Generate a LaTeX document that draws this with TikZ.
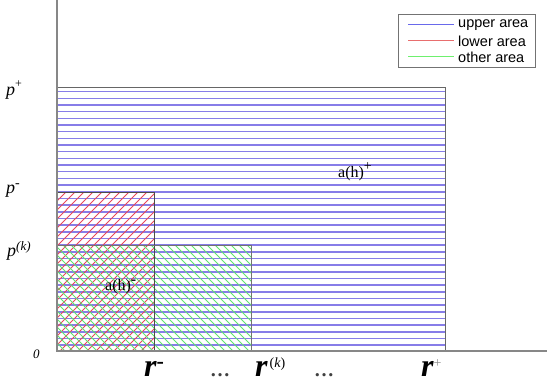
\documentclass[tikz,border=0pt]{standalone}
\usepackage{fontspec}
\setmainfont{Liberation Serif}
\newfontfamily\legendfont{Liberation Sans}
\definecolor{hblue}{RGB}{135,125,232}
\definecolor{hred}{RGB}{232,70,90}
\definecolor{hgreen}{RGB}{95,228,110}
\definecolor{legblue}{RGB}{105,105,235}
\definecolor{legred}{RGB}{232,110,110}
\definecolor{leggreen}{RGB}{110,240,110}
\definecolor{axisgray}{RGB}{135,135,135}
\newcommand{\supr}[2]{\raisebox{#1}{#2}}
\tikzset{
  axisline/.style={draw=axisgray, line width=1.3pt},
  boxline/.style={draw=black!60, line width=0.8pt, inner sep=0pt},
  bluehatch/.style={draw=hblue, line width=1.5pt},
  redhatch/.style={draw=hred, line width=1.0pt},
  greenhatch/.style={draw=hgreen, line width=1.0pt},
  lab/.style={anchor=base west, inner sep=0pt},
  plab/.style={lab, font=\fontsize{18}{18}\selectfont\itshape},
  rlab/.style={lab, font=\fontsize{32}{32}\selectfont\bfseries\itshape},
  alab/.style={lab, font=\fontsize{16}{16}\selectfont},
  legtext/.style={font=\legendfont\fontsize{14.5}{14.5}\selectfont, anchor=west, inner sep=0pt}
}
\begin{document}
\begin{tikzpicture}[x=1pt,y=-1pt]
\useasboundingbox (0,0) rectangle (550,383);
% blue hatching of upper area
\begin{scope}
  \clip (57,87) rectangle (445,351);
  \foreach \k in {0,...,38} {
    \draw[bluehatch] (57,{91.7+6.67*\k}) -- (445,{91.7+6.67*\k});
  }
\end{scope}
% red hatching of lower area
\begin{scope}
  \clip (57,192) rectangle (154,351);
  \foreach \c in {249,258,...,510} {
    \draw[redhatch] ({\c-192},192) -- ({\c-351},351);
  }
\end{scope}
% green hatching of other area
\begin{scope}
  \clip (57,245) rectangle (251,351);
  \foreach \c in {-294,-286,...,10} {
    \draw[greenhatch] ({\c+245},245) -- ({\c+351},351);
  }
\end{scope}
% rectangles
\node[boxline, draw, minimum width=388pt, minimum height=264pt] (upper) at (251,219) {};
\node[boxline, draw=black!70, minimum width=97pt, minimum height=159pt] (lower) at (105.5,271.5) {};
\node[boxline, draw=black!55, minimum width=194pt, minimum height=106pt] (other) at (154,298) {};
% axes
\coordinate (o) at (57,351);
\coordinate (ytop) at (57,0);
\coordinate (xend) at (547,351);
\draw[axisline] (ytop) -- (o) -- (xend);
% axis labels
\node[plab] (pp) at (6,95) {p\supr{8pt}{\fontsize{12}{12}\selectfont\upshape +}};
\node[plab] (pm) at (6,193) {p\supr{6pt}{\fontsize{14}{14}\selectfont\upshape -}};
\node[plab] (pk) at (7,256) {p\supr{6pt}{\fontsize{13}{13}\selectfont(\textit{k})}};
\node[lab, font=\fontsize{13}{13}\selectfont\itshape] (zero) at (33,358) {0};
\node[rlab] (rm) at (144,376) {r\supr{8pt}{\fontsize{22}{22}\selectfont\bfseries\upshape -}};
\node[lab, font=\fontsize{20}{20}\selectfont\bfseries, text=black!75] (d1) at (210,376) {\ldots};
\node[rlab] (rk) at (255,376) {r\hspace{2pt}\supr{9pt}{\fontsize{14}{14}\selectfont\mdseries\upshape (\textit{k})}};
\node[lab, font=\fontsize{20}{20}\selectfont\bfseries, text=black!75] (d2) at (314,376) {\ldots};
\node[rlab] (rp) at (421,376) {r\supr{9pt}{\fontsize{14}{14}\selectfont\mdseries\upshape\color{black!45}+}};
% area labels
\node[alab] (ap) at (338,177) {a(h)\supr{7pt}{\fontsize{14}{14}\selectfont +}};
\node[alab] (am) at (105,290) {a(h)\supr{6pt}{\fontsize{16}{16}\selectfont\bfseries -}};
% legend
\node[draw=black!55, line width=0.8pt, minimum width=137pt, minimum height=53pt, inner sep=0pt, fill=white] (legend) at (466.5,40.5) {};
\coordinate (l1a) at (408,24); \coordinate (l1b) at (454,24);
\coordinate (l2a) at (408,40); \coordinate (l2b) at (454,40);
\coordinate (l3a) at (408,56); \coordinate (l3b) at (454,56);
\draw[draw=legblue, line width=1pt] (l1a) -- (l1b);
\draw[draw=legred, line width=1pt] (l2a) -- (l2b);
\draw[draw=leggreen, line width=1pt] (l3a) -- (l3b);
\node[legtext] (t1) at (458,25) {upper area};
\node[legtext] (t2) at (458,41) {lower area};
\node[legtext] (t3) at (458,57) {other area};
\end{tikzpicture}
\end{document}
